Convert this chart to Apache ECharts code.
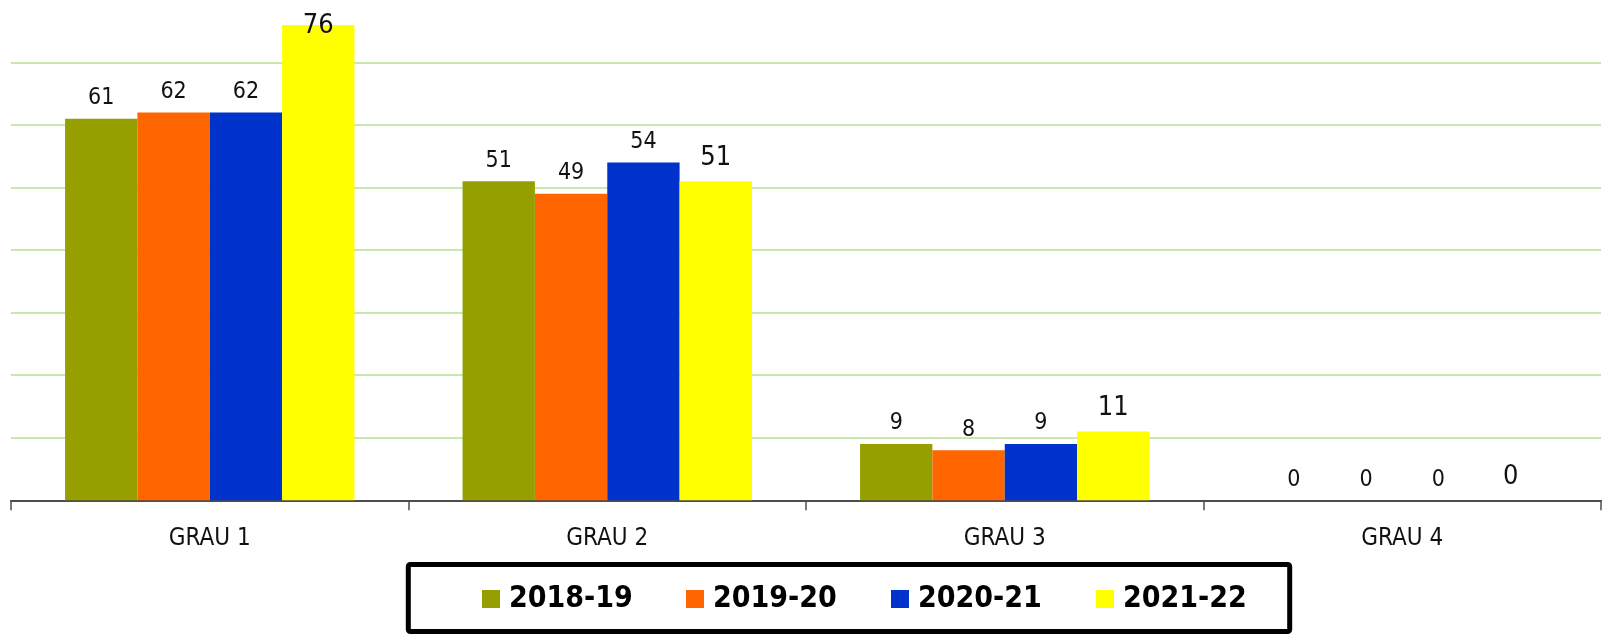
<!DOCTYPE html>
<html>
<head>
<meta charset="utf-8">
<script src="https://cdn.jsdelivr.net/npm/echarts@6/dist/echarts.min.js"></script>
<style>
  html, body { margin: 0; padding: 0; background: #fff; }
  #chart { width: 1606px; height: 634px; }
</style>
</head>
<body>
<div id="chart"></div>
<script>
const categories = ['GRAU 1', 'GRAU 2', 'GRAU 3', 'GRAU 4']
const seriesNames = ['2018-19', '2019-20', '2020-21', '2021-22']
const values2018 = [61, 51, 9, 0]
const values2019 = [62, 49, 8, 0]
const values2020 = [62, 54, 9, 0]
const values2021 = [76, 51, 11, 0]
const colors = ['#95a000', '#ff6600', '#0033cc', '#ffff00']

const FONT = "'Liberation Sans Narrow', 'DejaVu Sans Condensed', sans-serif"

// x of each legend square, so the items sit where they sit in the original
const legendLeft = [482, 686, 891, 1096]

const chart = echarts.init(document.getElementById('chart'))

function barSeries(name, data, color, big) {
  return {
    name,
    type: 'bar',
    data: data.map(v => {
      // the tallest label sits partly over its bar, as in the original
      if (big && v === 76) return { value: v, label: { offset: [0, 24] } }
      return v
    }),
    barGap: '0%',
    barCategoryGap: '27.2%',
    itemStyle: { color },
    label: {
      show: true,
      position: 'top',
      distance: big ? 10 : 9,
      color: '#111',
      fontFamily: FONT,
      fontSize: big ? 27 : 23,
      lineHeight: big ? 27 : 23
    }
  }
}

const option = {
  animation: false,
  backgroundColor: '#fff',
  grid: { left: 11, right: 5, top: -2.6, bottom: 133.7, containLabel: false },
  xAxis: {
    type: 'category',
    data: categories,
    axisLine: { show: true, lineStyle: { color: '#4d4d4d', width: 2 } },
    axisTick: { show: true, length: 10, lineStyle: { color: '#4d4d4d', width: 1.5 } },
    axisLabel: { color: '#111', fontFamily: FONT, fontSize: 24, lineHeight: 24, margin: 26 }
  },
  yAxis: {
    type: 'value',
    min: 0,
    max: 80,
    interval: 10,
    axisLine: { show: false },
    axisTick: { show: false },
    axisLabel: { show: false },
    splitLine: { showMaxLine: false, lineStyle: { color: '#badf96', width: 1.5 } }
  },
  legend: seriesNames.map((name, i) => ({
    data: [name],
    left: legendLeft[i],
    top: 584,
    padding: 0,
    icon: 'rect',
    itemWidth: 18,
    itemHeight: 18,
    textStyle: {
      color: '#000',
      fontFamily: FONT,
      fontWeight: 'bold',
      fontSize: 30,
      lineHeight: 30,
      padding: [0, 0, 0, 4]
    }
  })),
  graphic: [
    {
      type: 'rect',
      z: -1,
      shape: { x: 408.3, y: 564.5, width: 881.4, height: 67, r: 2 },
      style: { fill: '#fff', stroke: '#000', lineWidth: 5 }
    }
  ],
  series: [
    barSeries(seriesNames[0], values2018, colors[0], false),
    barSeries(seriesNames[1], values2019, colors[1], false),
    barSeries(seriesNames[2], values2020, colors[2], false),
    barSeries(seriesNames[3], values2021, colors[3], true)
  ]
}

chart.setOption(option)
</script>
</body>
</html>
